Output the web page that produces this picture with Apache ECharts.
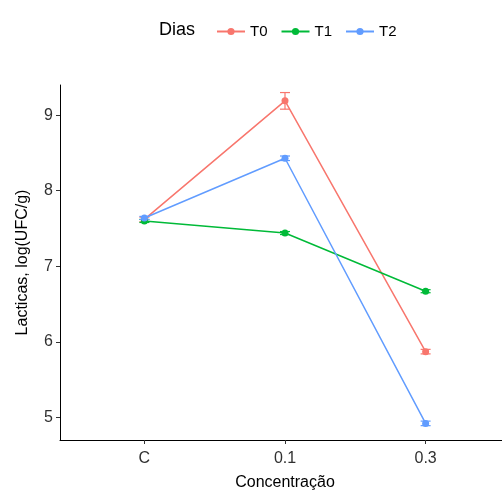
<!DOCTYPE html>
<html>
<head>
<meta charset="utf-8">
<script src="https://cdn.jsdelivr.net/npm/echarts@6/dist/echarts.min.js"></script>
<style>
  html, body { margin: 0; padding: 0; background: #fff; }
  #chart { width: 502px; height: 493px; }
</style>
</head>
<body>
<div id="chart"></div>
<script>
// dados
const categories = ['C', '0.1', '0.3'];
const seriesNames = ['T0', 'T1', 'T2'];
const valuesT0 = [7.62, 9.19, 5.87];
const valuesT1 = [7.60, 7.44, 6.67];
const valuesT2 = [7.64, 8.43, 4.92];
const errT0 = [0.03, 0.11, 0.03];
const errT1 = [0.02, 0.02, 0.02];
const errT2 = [0.02, 0.03, 0.03];
const yTicks = [5, 6, 7, 8, 9];

const colors = ['#F8766D', '#00BA38', '#619CFF'];
const allValues = [valuesT0, valuesT1, valuesT2];
const allErrs = [errT0, errT1, errT2];
const fontFam = '"Liberation Sans", Arial, Helvetica, sans-serif';

let dom = document.getElementById('chart');
let myChart = echarts.init(dom);

// barras de erro
function errorBarSeries(i) {
    let data = allValues[i].map(function (v, k) {
        return [k, v - allErrs[i][k], v + allErrs[i][k]];
    });
    return {
        name: seriesNames[i] + ' err',
        type: 'custom',
        z: 2,
        silent: true,
        data: data,
        renderItem: function (params, api) {
            let lo = api.coord([api.value(0), api.value(1)]);
            let hi = api.coord([api.value(0), api.value(2)]);
            let hw = 5;
            let style = { stroke: colors[i], lineWidth: 1.2 };
            return {
                type: 'group',
                children: [
                    { type: 'line', shape: { x1: lo[0], y1: lo[1], x2: hi[0], y2: hi[1] }, style: style },
                    { type: 'line', shape: { x1: lo[0] - hw, y1: lo[1], x2: lo[0] + hw, y2: lo[1] }, style: style },
                    { type: 'line', shape: { x1: hi[0] - hw, y1: hi[1], x2: hi[0] + hw, y2: hi[1] }, style: style }
                ]
            };
        }
    };
}

let series = [];
seriesNames.forEach(function (name, i) {
    series.push(errorBarSeries(i));
});
seriesNames.forEach(function (name, i) {
    series.push({
        name: name,
        type: 'line',
        z: 3,
        data: allValues[i].map(function (v, k) { return [k, v]; }),
        symbol: 'circle',
        symbolSize: 7,
        showSymbol: true,
        itemStyle: { color: colors[i] },
        lineStyle: { color: colors[i], width: 1.5 },
        emphasis: { disabled: true },
        animation: false
    });
});

let option = {
    animation: false,
    textStyle: { fontFamily: fontFam },
    title: {
        text: 'Dias',
        left: 154,
        top: 16,
        textStyle: { fontSize: 18, fontWeight: 'normal', color: '#000', fontFamily: fontFam }
    },
    legend: {
        data: seriesNames,
        left: 211,
        top: 19,
        itemWidth: 28,
        itemHeight: 9,
        itemGap: 13,
        textStyle: { fontSize: 15, color: '#000', fontFamily: fontFam }
    },
    grid: { left: 60, right: -8, top: 85, bottom: 53, containLabel: false, outerBoundsMode: 'none' },
    xAxis: {
        type: 'value',
        min: -0.6,
        max: 2.6,
        name: 'Concentração',
        nameLocation: 'middle',
        nameGap: 35,
        nameTextStyle: { fontSize: 16, color: '#000', fontFamily: fontFam },
        axisLine: { show: true, onZero: false, lineStyle: { color: '#000', width: 1 } },
        axisTick: { show: true, length: 4, customValues: [0, 1, 2], lineStyle: { color: '#333' } },
        axisLabel: {
            customValues: [0, 1, 2],
            fontSize: 16,
            color: '#303030',
            margin: 11,
            formatter: function (v) { return categories[Math.round(v)]; }
        },
        splitLine: { show: false }
    },
    yAxis: {
        type: 'value',
        min: 4.7,
        max: 9.4,
        name: 'Lacticas, log(UFC/g)',
        nameLocation: 'middle',
        nameGap: 29,
        nameTextStyle: { fontSize: 16, color: '#000', fontFamily: fontFam },
        axisLine: { show: true, onZero: false, lineStyle: { color: '#000', width: 1 } },
        axisTick: { show: true, length: 4, customValues: yTicks, lineStyle: { color: '#333' } },
        axisLabel: { customValues: yTicks, fontSize: 16, color: '#303030', margin: 7 },
        splitLine: { show: false }
    },
    series: series
};

myChart.setOption(option);
</script>
</body>
</html>
